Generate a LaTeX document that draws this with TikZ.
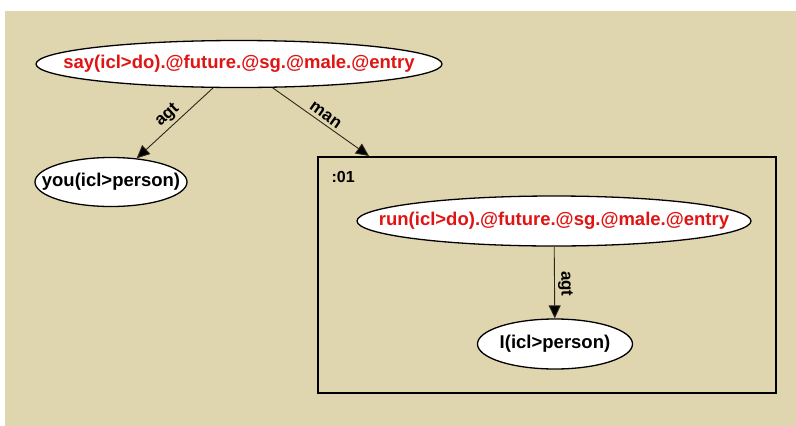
\documentclass[tikz,border=0pt]{standalone}
\usepackage{fontspec}
\setmainfont{Liberation Sans}
\usetikzlibrary{calc,arrows.meta,shapes.geometric}
\definecolor{bg}{RGB}{223,213,174}
\definecolor{uwred}{RGB}{225,20,20}
\definecolor{edgecol}{RGB}{45,40,25}
\newcommand{\uwtext}[1]{\makebox[0pt]{#1}}
\tikzset{
  uwnode/.style={ellipse, draw=black, line width=1.3pt, fill=white, inner sep=0pt,
    font=\fontsize{18.5}{20}\selectfont\bfseries},
  headnode/.style={uwnode, text=uwred},
  rel/.style={draw=edgecol, line width=0.9pt, -{Triangle[length=13pt,width=12pt,fill=black]}},
  rellabel/.style={font=\fontsize{17}{19}\selectfont\bfseries, text=black, inner sep=3pt},
  scopebox/.style={draw=black, line width=2pt, inner sep=0pt}
}
\begin{document}
\begin{tikzpicture}[x=1pt,y=-1pt]
\useasboundingbox (0,0) rectangle (796,426);
\fill[white] (0,0) rectangle (796,426);
\fill[bg] (5,11) rectangle (796,426);

\node[headnode, minimum width=406pt, minimum height=47pt] (say) at (239,64)
  {\uwtext{say(icl>do).@future.@sg.@male.@entry}};
\node[uwnode, minimum width=152pt, minimum height=49pt] (you) at (111,182) {\uwtext{you(icl>person)}};

\node[scopebox, minimum width=458pt, minimum height=236pt] (box) at (547,275) {};
\node[font=\fontsize{16}{18}\selectfont\bfseries, anchor=west] (lbl) at (328,177) {:01};

\node[headnode, minimum width=394pt, minimum height=50pt] (run) at (554,221)
  {\uwtext{run(icl>do).@future.@sg.@male.@entry}};
\node[uwnode, minimum width=155pt, minimum height=50pt] (i) at (555,344) {\uwtext{I(icl>person)}};

\coordinate (boxin) at ($(box.north west)+(52pt,0)$);

\draw[rel] (say) -- node[rellabel, sloped, above, pos=0.5] {agt} (you);
\draw[rel] (say) -- node[rellabel, sloped, above, pos=0.5] {man} (boxin);
\draw[rel] (run) -- node[rellabel, sloped, above, pos=0.52] {agt} (i);
\end{tikzpicture}
\end{document}
